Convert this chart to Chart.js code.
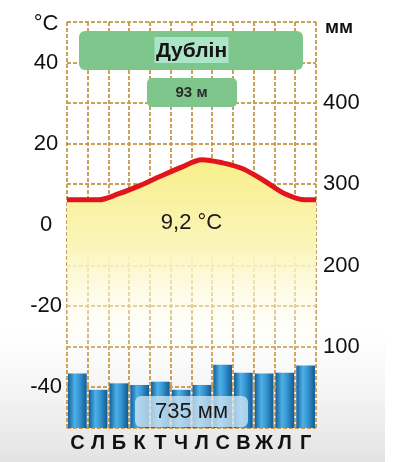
<!DOCTYPE html>
<html>
<head>
<meta charset="utf-8">
<script src="https://cdn.jsdelivr.net/npm/chart.js@4"></script>
<style>
  body { margin: 0; background: #fff; }
  #wrap { width: 401px; height: 462px; position: relative; }
</style>
</head>
<body>
<div id="wrap"><canvas id="climate_chart"></canvas></div>
<script>
// climate diagram data
const months = ["С", "Л", "Б", "К", "Т", "Ч", "Л", "С", "В", "Ж", "Л", "Г"];
const temps = [6.2, 6.2, 7.7, 9.7, 12.0, 14.2, 16.1, 15.3, 13.8, 10.9, 7.7, 6.2];
const precip = [67, 47, 55, 53, 57, 47, 53, 78, 68, 67, 68, 77];
const tempTicks = [40, 20, 0, -20, -40];
const precipTicks = [100, 200, 300, 400];
const cityName = "Дублін";
const altitude = "93 м";
const meanTemp = "9,2 °C";
const totalPrecip = "735 мм";

const gridColor = "rgba(198,152,72,0.9)";

// line runs from the left edge to the right edge of the plot
let linePoints = [{x: 0, y: temps[0]}];
temps.forEach((t, i) => linePoints.push({x: i + 0.5, y: t}));
linePoints.push({x: months.length, y: temps[temps.length - 1]});

function roundRect(c, x, y, w, h, r, fill) {
    c.beginPath();
    c.roundRect(x, y, w, h, r);
    c.fillStyle = fill;
    c.fill();
}

const background = {
    id: "background",
    beforeDraw(chart) {
        let c = chart.ctx;
        c.save();
        c.fillStyle = "#fff";
        c.fillRect(0, 0, chart.width, chart.height);
        let g = c.createLinearGradient(0, 330, 0, chart.height);
        g.addColorStop(0, "rgba(235,235,235,0)");
        g.addColorStop(1, "#e3e3e3");
        c.fillStyle = g;
        c.fillRect(0, 330, 385, chart.height - 330);
        c.restore();
    }
};

const labels = {
    id: "labels",
    afterDatasetsDraw(chart) {
        let c = chart.ctx;
        let a = chart.chartArea;
        let cx = (a.left + a.right) / 2;
        c.save();
        c.textBaseline = "middle";
        c.textAlign = "center";

        // unit titles
        c.fillStyle = "#111";
        c.font = "22px 'Liberation Sans', Arial, sans-serif";
        c.fillText("°C", 46, 24);
        c.textAlign = "left";
        c.font = "bold 19px 'Liberation Sans', Arial, sans-serif";
        c.fillText("мм", a.right + 9, 28);

        // city name + altitude
        c.textAlign = "center";
        roundRect(c, 79, 31, 224, 39, 6, "#7ec68c");
        c.fillStyle = "#a9e5c6";
        c.fillRect(cx - 37, 37, 74, 26);
        c.fillStyle = "#151515";
        c.font = "bold 21px 'Liberation Sans', Arial, sans-serif";
        c.fillText(cityName, cx, 51);

        roundRect(c, 147, 78, 90, 29, 5, "#7ec68c");
        c.fillStyle = "#2a2a2a";
        c.font = "bold 15px 'Liberation Sans', Arial, sans-serif";
        c.fillText(altitude, cx, 93);

        // mean temperature
        c.fillStyle = "#1a1a1a";
        c.font = "22px 'Liberation Sans', Arial, sans-serif";
        c.fillText(meanTemp, cx, 223);

        // annual precipitation
        roundRect(c, 135, 396, 113, 31, 6, "rgba(205,228,242,0.78)");
        c.fillStyle = "#1a1a1a";
        c.fillText(totalPrecip, cx, 412);
        c.restore();
    }
};

function barGradient(ctx) {
    let chart = ctx.chart;
    let xs = chart.scales.x;
    if (!chart.chartArea || !xs || ctx.dataIndex === undefined) return "#2b8acb";
    let cx = xs.getPixelForValue(ctx.dataIndex);
    let w = xs.width / months.length * 0.9 / 2;
    if (!isFinite(cx) || !isFinite(w) || w <= 0) return "#2b8acb";
    let g = chart.ctx.createLinearGradient(cx - w, 0, cx + w, 0);
    g.addColorStop(0, "#135f99");
    g.addColorStop(0.35, "#4db0e6");
    g.addColorStop(0.6, "#3797d4");
    g.addColorStop(1, "#125a92");
    return g;
}

function fillGradient(ctx) {
    let chart = ctx.chart;
    if (!chart.chartArea) return "rgba(250,240,140,0.6)";
    let g = chart.ctx.createLinearGradient(0, 155, 0, 365);
    g.addColorStop(0, "#f8ee88");
    g.addColorStop(0.45, "#fbf5bd");
    g.addColorStop(1, "rgba(255,255,255,0)");
    return g;
}

new Chart("climate_chart", {
    type: "bar",
    data: {
        labels: months,
        datasets: [{
            type: "bar",
            data: precip,
            yAxisID: "y2",
            xAxisID: "x",
            backgroundColor: barGradient,
            grouped: false,
            barPercentage: 0.9,
            categoryPercentage: 1,
            order: 1
        }, {
            type: "line",
            data: linePoints,
            yAxisID: "y",
            xAxisID: "x2",
            borderColor: "#e1151c",
            borderWidth: 5,
            pointRadius: 0,
            cubicInterpolationMode: "monotone",
            fill: "start",
            backgroundColor: fillGradient,
            order: 2
        }]
    },
    options: {
        responsive: true,
        maintainAspectRatio: false,
        animation: false,
        events: [],
        layout: { padding: { top: 22, left: 0, right: 0, bottom: 0 } },
        plugins: { legend: { display: false }, tooltip: { enabled: false } },
        scales: {
            x: {
                type: "category",
                offset: true,
                afterFit: s => { s.height = 34; },
                grid: { offset: true, color: gridColor, lineWidth: 2, drawTicks: false },
                border: { display: false, dash: [4, 2] },
                ticks: {
                    padding: 3,
                    autoSkip: false,
                    maxRotation: 0,
                    color: "#111",
                    font: { family: "'Liberation Sans', Arial, sans-serif", size: 20, weight: "bold" }
                }
            },
            x2: {
                type: "linear",
                min: 0,
                max: months.length,
                offset: false,
                grid: { offset: false },
                display: false
            },
            y: {
                position: "left",
                min: -50,
                max: 50,
                afterFit: s => { s.width = 67; },
                grid: { color: gridColor, lineWidth: 2, drawTicks: false },
                border: { display: false, dash: [4, 2] },
                ticks: {
                    stepSize: 10,
                    padding: 5,
                    crossAlign: "center",
                    color: "#111",
                    font: { family: "'Liberation Sans', Arial, sans-serif", size: 22 },
                    callback: v => tempTicks.includes(v) ? String(v) : ""
                }
            },
            y2: {
                position: "right",
                min: 0,
                max: 500,
                afterFit: s => { s.width = 85; },
                grid: { display: false, drawTicks: false },
                border: { display: false },
                ticks: {
                    stepSize: 100,
                    padding: 7,
                    color: "#111",
                    font: { family: "'Liberation Sans', Arial, sans-serif", size: 22 },
                    callback: v => precipTicks.includes(v) ? String(v) : ""
                }
            }
        }
    },
    plugins: [background, labels]
});
</script>
</body>
</html>
